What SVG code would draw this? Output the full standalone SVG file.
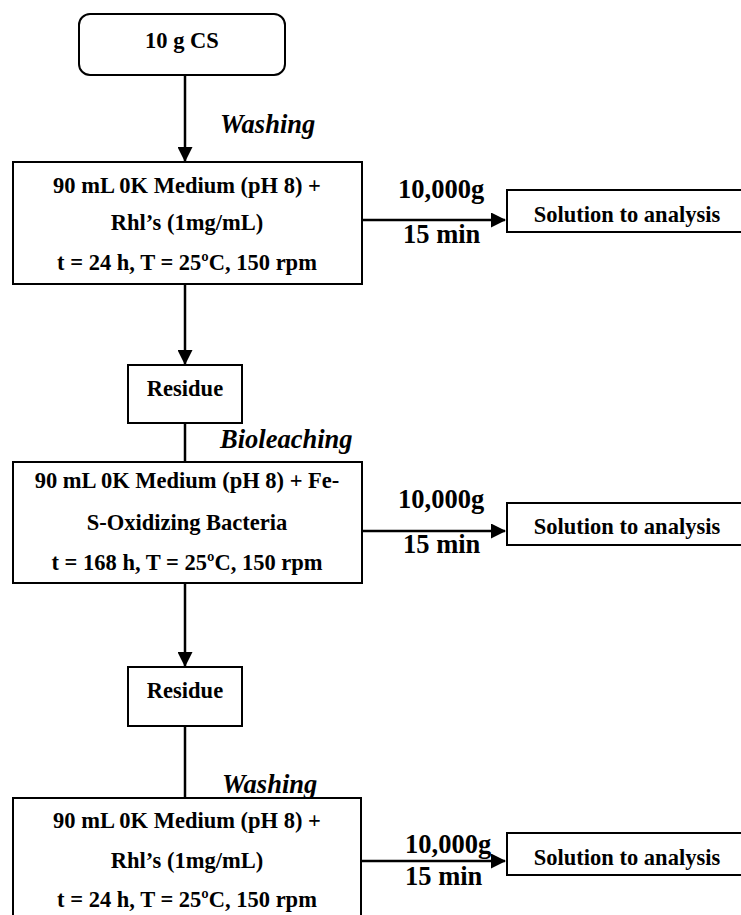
<svg xmlns="http://www.w3.org/2000/svg" width="741" height="915" viewBox="0 0 741 915" font-family="Liberation Serif, serif">
<style>
.box{fill:#fff;stroke:#000;stroke-width:2}
.t{font-weight:700;font-size:22.5px;text-anchor:middle;fill:#000}
.lbl{font-weight:700;font-size:26.5px;fill:#000}
.it{font-style:italic}
.ln{fill:none;stroke:#000;stroke-width:2.5}
</style>
<defs>
<marker id="ah" markerWidth="6" markerHeight="6" refX="5.6" refY="3" orient="auto" markerUnits="strokeWidth">
<path d="M0,0 L6,3 L0,6 Z" fill="#000"/>
</marker>
</defs>
<rect width="741" height="915" fill="#fff"/>
<g id="connectors">
<line class="ln" x1="185" y1="75" x2="185" y2="161" marker-end="url(#ah)"/>
<line class="ln" x1="185" y1="276" x2="185" y2="364" marker-end="url(#ah)"/>
<line class="ln" x1="185" y1="423" x2="185" y2="462"/>
<line class="ln" x1="185" y1="583" x2="185" y2="666" marker-end="url(#ah)"/>
<line class="ln" x1="185" y1="726" x2="185" y2="798"/>
<line class="ln" x1="362" y1="220" x2="505" y2="220" marker-end="url(#ah)"/>
<line class="ln" x1="362" y1="531" x2="505" y2="531" marker-end="url(#ah)"/>
<line class="ln" x1="361" y1="861" x2="505" y2="861" marker-end="url(#ah)"/>
<text class="lbl it" x="220" y="133">Washing</text>
<text class="lbl it" x="220" y="448">Bioleaching</text>
<text class="lbl it" x="222" y="793">Washing</text>
<text class="lbl" x="398" y="198">10,000g</text>
<text class="lbl" x="403" y="243">15 min</text>
<text class="lbl" x="398" y="508">10,000g</text>
<text class="lbl" x="403" y="553">15 min</text>
<text class="lbl" x="405" y="853">10,000g</text>
<text class="lbl" x="405" y="885">15 min</text>
</g>
<g id="start">
<rect class="box" x="79" y="14" width="206" height="61" rx="11"/>
<text class="t" x="182" y="48">10 g CS</text>
</g>
<g id="washing1">
<rect class="box" x="13" y="162" width="349" height="122"/>
<text class="t" x="187" y="193">90 mL 0K Medium (pH 8) +</text>
<text class="t" x="187" y="230">Rhl’s (1mg/mL)</text>
<text class="t" x="187" y="270">t = 24 h, T = 25ºC, 150 rpm</text>
</g>
<g id="solution1">
<rect class="box" x="507" y="190" width="260" height="42"/>
<text class="t" x="627" y="222">Solution to analysis</text>
</g>
<g id="residue1">
<rect class="box" x="128" y="365" width="114" height="58"/>
<text class="t" x="185" y="396">Residue</text>
</g>
<g id="bioleaching">
<rect class="box" x="13" y="462" width="349" height="121"/>
<text class="t" x="187" y="488">90 mL 0K Medium (pH 8) + Fe-</text>
<text class="t" x="187" y="530">S-Oxidizing Bacteria</text>
<text class="t" x="187" y="570">t = 168 h, T = 25ºC, 150 rpm</text>
</g>
<g id="solution2">
<rect class="box" x="507" y="503" width="260" height="42"/>
<text class="t" x="627" y="534">Solution to analysis</text>
</g>
<g id="residue2">
<rect class="box" x="128" y="667" width="114" height="59"/>
<text class="t" x="185" y="698">Residue</text>
</g>
<g id="washing2">
<rect class="box" x="13" y="798" width="348" height="140"/>
<text class="t" x="187" y="828">90 mL 0K Medium (pH 8) +</text>
<text class="t" x="187" y="868">Rhl’s (1mg/mL)</text>
<text class="t" x="187" y="907">t = 24 h, T = 25ºC, 150 rpm</text>
</g>
<g id="solution3">
<rect class="box" x="507" y="833" width="260" height="42"/>
<text class="t" x="627" y="865">Solution to analysis</text>
</g>
</svg>
